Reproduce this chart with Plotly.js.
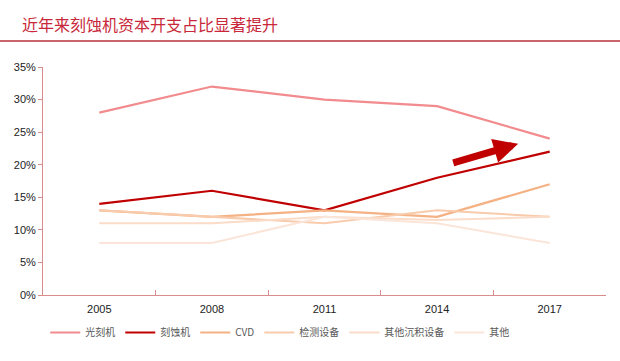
<!DOCTYPE html>
<html>
<head>
<meta charset="utf-8">
<script src="https://cdn.plot.ly/plotly-3.0.1.min.js"></script>
<style>html,body{margin:0;padding:0;background:#fff;}#chart{width:620px;height:361px;}</style>
</head>
<body>
<div id="chart"></div>
<script>
const years = ["2005", "2008", "2011", "2014", "2017"];
const seriesNames = ["光刻机", "刻蚀机", "CVD", "检测设备", "其他沉积设备", "其他"];
const litho = [28, 32, 30, 29, 24];
const etch = [14, 16, 13, 18, 22];
const cvd = [13, 12, 13, 12, 17];
const inspect = [13, 12, 11, 13, 12];
const otherDepo = [11, 11, 12, 11.5, 12];
const others = [8, 8, 12, 11, 8];
const yTicks = [0, 5, 10, 15, 20, 25, 30, 35];

const values = [litho, etch, cvd, inspect, otherDepo, others];
const colors = ["#F28B8E", "#C00000", "#F4B183", "#F8CBAD", "#FADCC8", "#FBE5D9"];
const widths = [2.2, 2.2, 2.2, 2, 2, 2];

const traces = values.map((v, i) => ({
  type: "scatter", mode: "lines", x: years, y: v, name: seriesNames[i],
  line: {color: colors[i], width: widths[i]}, hoverinfo: "skip"
}));

const layout = {
  width: 620, height: 361,
  margin: {l: 43, r: 14, t: 67, b: 66},
  paper_bgcolor: "#fff", plot_bgcolor: "#fff",
  title: {text: "近年来刻蚀机资本开支占比显著提升", x: 22/620, xanchor: "left", xref: "container",
          y: 1 - 25/361, yanchor: "middle", yref: "container",
          font: {family: "Noto Sans CJK SC", size: 16, color: "#C8283A"}},
  showlegend: true,
  legend: {orientation: "h", x: 0.004, xanchor: "left", xref: "paper",
           y: (361 - 318) / 361, yanchor: "top", yref: "container",
           font: {family: "Noto Sans CJK SC", size: 10, color: "#595959"},
           itemwidth: 30, tracegroupgap: 0},
  xaxis: {type: "category", range: [-0.5, 4.5], tickson: "boundaries", ticks: "inside", ticklen: 5,
          tickcolor: "#D98C8C", showline: true, linecolor: "#D98C8C", linewidth: 1,
          showgrid: false, zeroline: false, automargin: false, ticklabelstandoff: 4,
          tickfont: {family: "Arial, Liberation Sans", size: 11, color: "#222"}},
  yaxis: {range: [0, 35], tickvals: yTicks, ticktext: yTicks.map(t => t + "%"),
          showline: true, linecolor: "#D98C8C", linewidth: 1, ticks: "outside", ticklen: 4,
          tickcolor: "#D98C8C", showgrid: false, zeroline: false, automargin: false,
          tickfont: {family: "Arial, Liberation Sans", size: 11, color: "#222"}},
  shapes: [{type: "line", xref: "paper", yref: "paper", x0: -43/563, x1: 1 + 14/563,
            y0: (295-41)/228, y1: (295-41)/228, line: {color: "#B8303C", width: 1.5}}],
  annotations: [{x: 3.72, y: 23.2, ax: 3.13, ay: 20.2, xref: "x", yref: "y", axref: "x", ayref: "y",
                 text: "", showarrow: true, arrowhead: 2, arrowsize: 0.7, arrowwidth: 7, arrowcolor: "#C00000"}]
};

Plotly.newPlot("chart", traces, layout, {displayModeBar: false, staticPlot: true});
</script>
</body>
</html>
